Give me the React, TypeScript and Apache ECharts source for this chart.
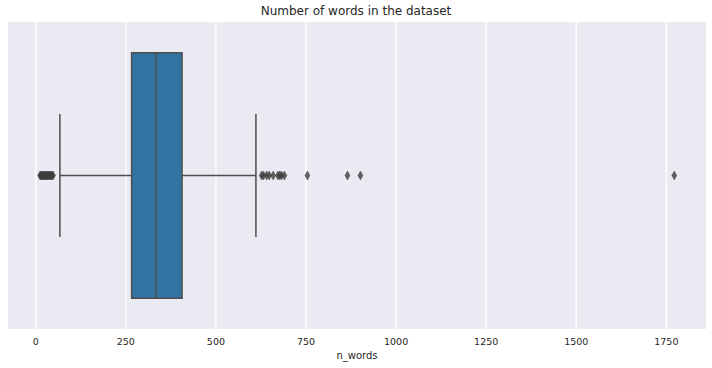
import React, { useEffect, useRef } from "react";
import * as echarts from "echarts";

const title = "Number of words in the dataset";
const axisName = "n_words";
const tickValues = [0, 250, 500, 750, 1000, 1250, 1500, 1750];
// [Q1, median, Q3, lower whisker, upper whisker]
const boxStats = [266, 333, 406, 67, 611];
const lowOutliers = [12, 14, 16, 19, 21, 23, 25, 28, 30, 33, 35, 38, 40, 43, 45, 48];
const highOutliers = [627, 632, 641, 648, 659, 672, 677, 682, 690, 754, 865, 901, 1772];

const EDGE = "#4d4d4d";

export default function App() {
  const ref = useRef<HTMLDivElement>(null);
  useEffect(() => {
    const chart = echarts.init(ref.current!, null, { renderer: "svg" });
    const outliers = [...lowOutliers, ...highOutliers].map((v) => [v, 0]);
    chart.setOption({
      animation: false,
      backgroundColor: "#ffffff",
      textStyle: { fontFamily: "DejaVu Sans" },
      title: {
        text: title,
        left: "center",
        top: 5,
        padding: 0,
        textStyle: { fontSize: 12, fontWeight: "normal", color: "#262626", fontFamily: "DejaVu Sans" },
      },
      grid: { left: 8, right: 6, top: 22, bottom: 39, containLabel: false, show: true, backgroundColor: "#EAEAF2", borderWidth: 0 },
      xAxis: {
        type: "value",
        min: -77,
        max: 1860,
        name: axisName,
        nameLocation: "middle",
        nameGap: 21,
        nameTextStyle: { fontSize: 10, color: "#262626", fontFamily: "DejaVu Sans" },
        axisLine: { show: false },
        axisTick: { show: false, customValues: tickValues },
        axisLabel: {
          customValues: tickValues,
          formatter: (v: number) => String(v),
          fontSize: 9.5,
          color: "#262626",
          margin: 7,
          fontFamily: "DejaVu Sans",
        },
        splitLine: { show: false },
      },
      yAxis: {
        type: "category",
        data: [""],
        axisLine: { show: false },
        axisTick: { show: false },
        axisLabel: { show: false },
        splitLine: { show: false },
      },
      series: [
        {
          type: "custom",
          z: 1,
          silent: true,
          data: tickValues.map((v) => [v, 0]),
          renderItem: (params: any, api: any) => {
            const x = api.coord([api.value(0), 0])[0];
            const cs = params.coordSys;
            return {
              type: "line",
              shape: { x1: x, y1: cs.y, x2: x, y2: cs.y + cs.height },
              style: { stroke: "#ffffff", lineWidth: 1.3 },
            };
          },
        },
        {
          type: "custom",
          z: 3,
          data: [[...boxStats, 0]],
          renderItem: (params: any, api: any) => {
            const q1 = api.value(0);
            const med = api.value(1);
            const q3 = api.value(2);
            const lo = api.value(3);
            const hi = api.value(4);
            const c = api.coord([med, 0]);
            const cy = c[1];
            const band = api.size([0, 1])[1];
            const bh = band * 0.8;
            const ch = band * 0.4;
            const x1 = api.coord([q1, 0])[0];
            const xm = api.coord([med, 0])[0];
            const x3 = api.coord([q3, 0])[0];
            const xl = api.coord([lo, 0])[0];
            const xh = api.coord([hi, 0])[0];
            const ls = { stroke: EDGE, lineWidth: 1.5 };
            return {
              type: "group",
              children: [
                { type: "line", shape: { x1: xl, y1: cy, x2: x1, y2: cy }, style: ls },
                { type: "line", shape: { x1: x3, y1: cy, x2: xh, y2: cy }, style: ls },
                { type: "line", shape: { x1: xl, y1: cy - ch / 2, x2: xl, y2: cy + ch / 2 }, style: ls },
                { type: "line", shape: { x1: xh, y1: cy - ch / 2, x2: xh, y2: cy + ch / 2 }, style: ls },
                {
                  type: "rect",
                  shape: { x: x1, y: cy - bh / 2, width: x3 - x1, height: bh },
                  style: { fill: "#3274A1", stroke: EDGE, lineWidth: 1.5 },
                },
                { type: "line", shape: { x1: xm, y1: cy - bh / 2, x2: xm, y2: cy + bh / 2 }, style: ls },
              ],
            };
          },
        },
        {
          type: "scatter",
          z: 4,
          symbol: "diamond",
          symbolSize: [5, 9],
          itemStyle: { color: "#3d3d3d", borderColor: "#3d3d3d", borderWidth: 0.5 },
          data: outliers,
        },
      ],
    });
    return () => chart.dispose();
  }, []);
  return <div ref={ref} style={{ width: 712, height: 368, position: "absolute", left: 0, top: 0 }} />;
}
